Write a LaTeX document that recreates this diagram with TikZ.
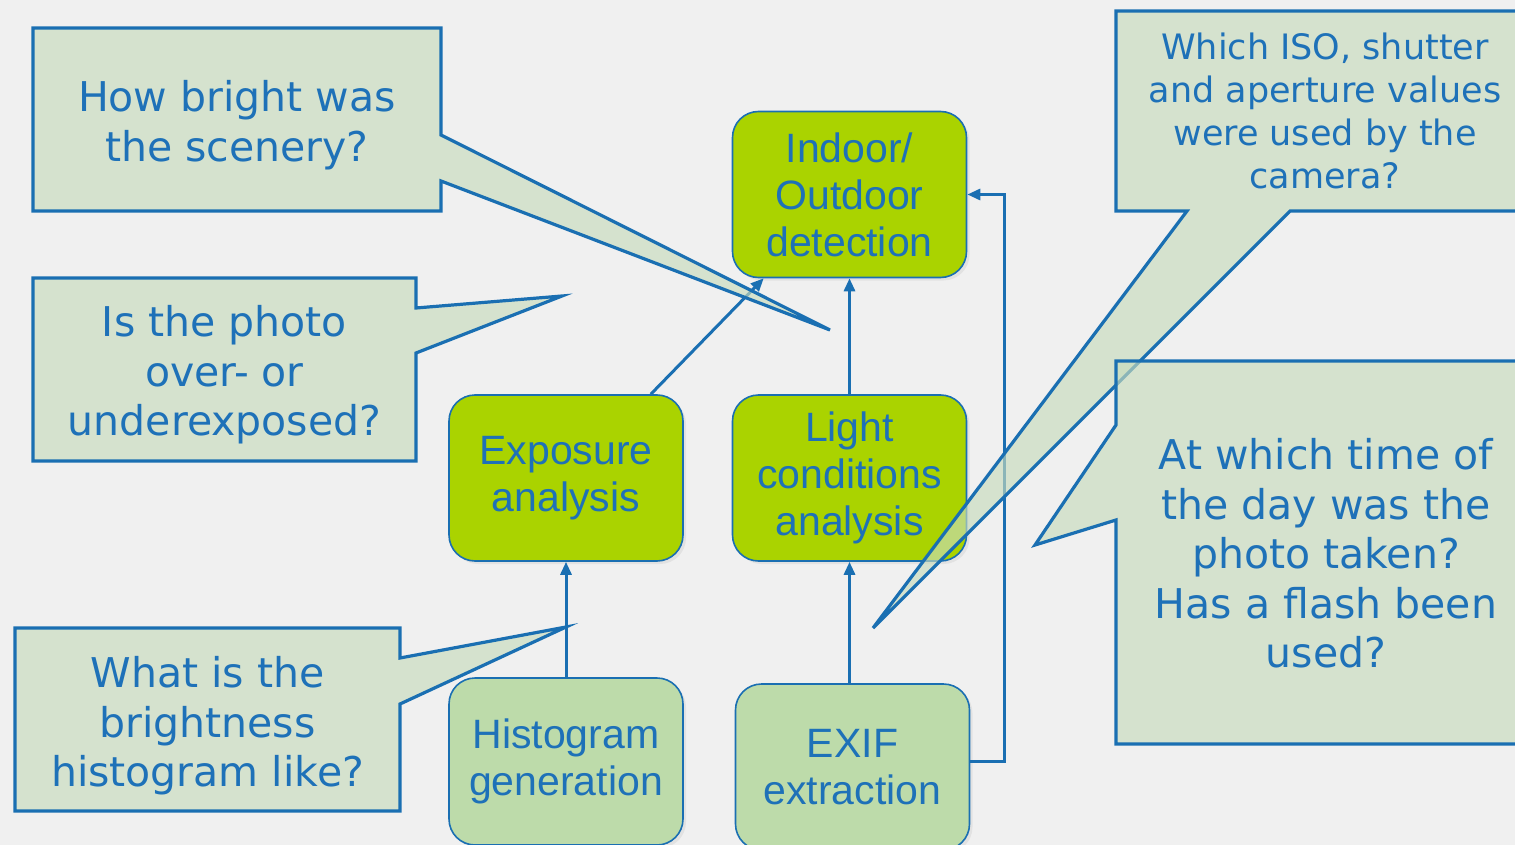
\documentclass[tikz,border=0pt]{standalone}
\usepackage{fontspec}
\newfontfamily\qfont{DejaVu Sans}
\newfontfamily\bfont{Liberation Sans}
\usetikzlibrary{calc,arrows.meta,shadows}
\definecolor{bg}{RGB}{240,240,240}
\definecolor{ink}{RGB}{30,113,184}
\definecolor{edge}{RGB}{26,111,178}
\definecolor{lime}{RGB}{170,211,0}
\definecolor{sage}{RGB}{189,219,170}
\definecolor{note}{RGB}{200,220,188}

\tikzset{
  stepnode/.style={draw=edge, line width=1.6pt, rounded corners=26pt,
    minimum width=234pt, minimum height=166pt, inner sep=0pt, align=center,
    text=ink, font=\bfont\fontsize{41}{47}\selectfont,
    execute at begin node={\rule{0pt}{37pt}},
    drop shadow={opacity=0.12, shadow xshift=3pt, shadow yshift=-3pt}},
  analysis/.style={stepnode, fill=lime},
  source/.style={stepnode, fill=sage},
  flow/.style={draw=edge, line width=3pt, -{Triangle[length=13pt,width=11pt]}},
  callout/.style={draw=edge, line width=3.2pt, fill=note, fill opacity=0.65, line join=miter},
  question/.style={text=ink, align=center, inner sep=0pt,
    font=\qfont\fontsize{41}{49.5}\selectfont},
}

\begin{document}
\begin{tikzpicture}[x=1pt,y=-1pt]
  \useasboundingbox (0,0) rectangle (1515,845);
  \clip (0,0) rectangle (1515,845);
  \fill[bg] (0,0) rectangle (1515,845);

  % processing steps
  \node[analysis] (indoor) at (849.5,194.5) {Indoor/\\Outdoor\\detection};
  \node[analysis] (expo) at (566,478) {Exposure\\analysis};
  \node[analysis] (light) at (849.5,478) {Light\\conditions\\analysis};
  \node[source, minimum height=167pt] (hist) at (566,761.5) {Histogram\\generation};
  \node[source] (exif) at (852.5,767) {EXIF\\extraction};

  % data flow
  \draw[flow] (hist.north) -- (expo.south);
  \draw[flow] (exif.north -| light.south) -- (light.south);
  \draw[flow] (light.north) -- (indoor.south);
  \draw[flow] ($(expo.north east)+(-33,0)$) -- ($(indoor.south west)+(32,0)$);
  \draw[flow] ($(exif.east)+(0,-6)$) -- ++(34,0) |- (indoor.east);

  % questions answered by each step
  \draw[callout] (33,28) -- (441,28) -- (441,135) -- (830,330) -- (441,181)
    -- (441,211) -- (33,211) -- cycle;
  \node[question] (q1) at (237,125) {How bright was\\the scenery?};

  \draw[callout] (33,278) -- (416,278) -- (416,308) -- (562,296) -- (416,353)
    -- (416,461) -- (33,461) -- cycle;
  \node[question] (q2) at (224.5,375) {Is the photo\\over- or\\underexposed?};

  \draw[callout] (15,628) -- (400,628) -- (400,658) -- (566,627) -- (400,704)
    -- (400,811) -- (15,811) -- cycle;
  \node[question] (q3) at (207.5,726) {What is the\\brightness\\histogram like?};

  \draw[callout] (1116,11) -- (1530,11) -- (1530,211) -- (1290,211) -- (873,628)
    -- (1187,211) -- (1116,211) -- cycle;
  \node[question, font=\qfont\fontsize{35}{42.7}\selectfont] (q4) at (1325,111)
    {Which ISO, shutter\\and aperture values\\were used by the\\camera?};

  \draw[callout] (1116,361) -- (1530,361) -- (1530,744) -- (1116,744) -- (1116,520)
    -- (1035,545) -- (1116,425) -- cycle;
  \node[question] (q5) at (1326,553.5)
    {At which time of\\the day was the\\photo taken?\\Has a flash been\\used?};
\end{tikzpicture}
\end{document}
